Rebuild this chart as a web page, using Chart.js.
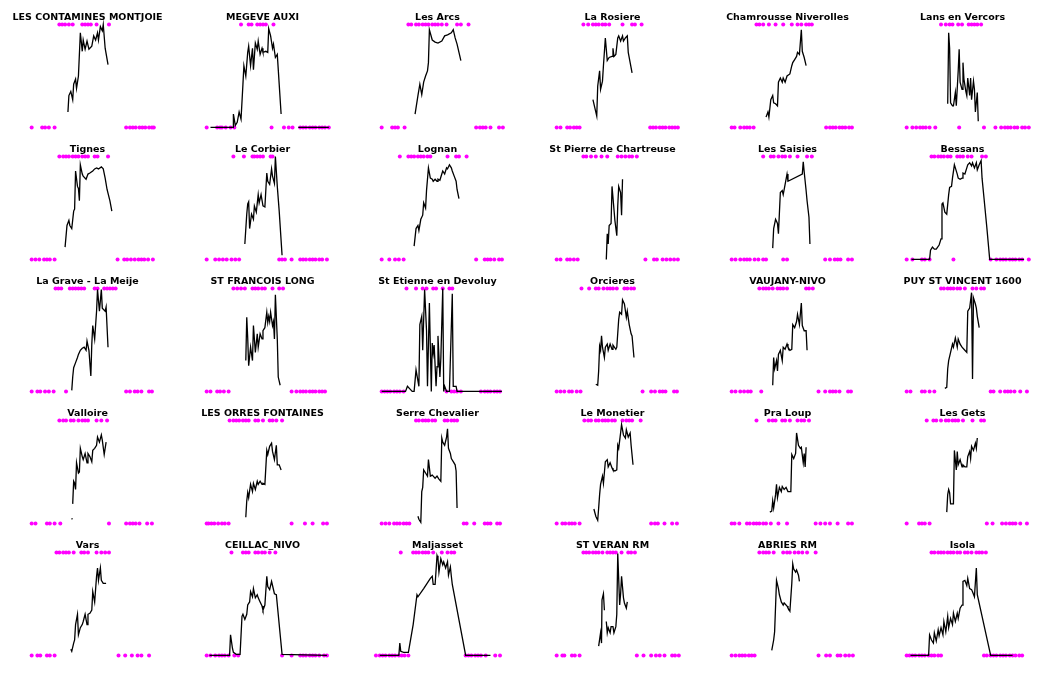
<!DOCTYPE html>
<html>
<head>
<meta charset="utf-8">
<script src="https://cdn.jsdelivr.net/npm/chart.js@4.4.1/dist/chart.umd.min.js"></script>
<style>
html, body { margin: 0; padding: 0; background: #fff; overflow: hidden; width: 1048px; height: 674px; }
#grid { position: relative; width: 1048px; height: 674px; }
#grid canvas { position: absolute; }
</style>
</head>
<body>
<div id="grid"></div>
<script>
// station names, one panel each (6 per row)
var stations = [
    'LES CONTAMINES MONTJOIE', 'MEGEVE AUXI', 'Les Arcs', 'La Rosiere', 'Chamrousse Niverolles', 'Lans en Vercors',
    'Tignes', 'Le Corbier', 'Lognan', 'St Pierre de Chartreuse', 'Les Saisies', 'Bessans',
    'La Grave - La Meije', 'ST FRANCOIS LONG', 'St Etienne en Devoluy', 'Orcieres', 'VAUJANY-NIVO', 'PUY ST VINCENT 1600',
    'Valloire', 'LES ORRES FONTAINES', 'Serre Chevalier', 'Le Monetier', 'Pra Loup', 'Les Gets',
    'Vars', 'CEILLAC_NIVO', 'Maljasset', 'ST VERAN RM', 'ABRIES RM', 'Isola'
];

// snow depth (day, % of max), null = no data
var snowDepth = [
    [[38,15],[39,31],[41,35],[43,27],[44,42],[46,47],[47,38],[49,50],[51,92],[53,74],[54,85],[56,76],[58,84],[60,76],[63,79],[65,89],[67,85],[69,92],[70,85],[72,98],[74,94],[75,100],[77,77],[80,61]],
    [[4,0],[28,0],[28,13],[30,2],[32,5],[34,15],[36,8],[38,42],[39,60],[41,50],[43,73],[44,79],[46,60],[48,77],[49,56],[51,82],[53,76],[54,84],[56,71],[58,77],[59,73],[62,74],[64,73],[65,96],[67,89],[69,77],[70,81],[72,68],[74,71],[78,13],[80,null],[96,0],[128,0]],
    [[35,13],[38,31],[40,42],[42,32],[44,44],[46,50],[48,55],[49,63],[50,95],[53,85],[56,83],[59,82],[63,84],[66,89],[69,90],[73,92],[75,95],[77,87],[79,81],[83,65]],
    [[38,27],[40,19],[42,11],[43,40],[45,55],[46,37],[48,45],[49,60],[51,87],[53,65],[55,68],[58,69],[59,77],[60,69],[62,71],[64,87],[65,89],[67,84],[69,89],[70,84],[72,87],[74,89],[75,73],[77,63],[79,53]],
    [[36,10],[38,15],[39,10],[41,27],[43,31],[44,24],[46,23],[48,21],[49,44],[51,48],[53,44],[54,48],[56,44],[58,50],[59,50],[61,52],[63,60],[64,63],[66,66],[68,69],[69,73],[71,71],[73,95],[74,74],[76,68],[78,60]],
    [[43,23],[44,92],[45,77],[46,24],[48,21],[49,21],[51,34],[52,21],[54,55],[55,76],[56,44],[58,37],[59,63],[60,47],[62,35],[63,31],[64,48],[66,31],[67,48],[68,27],[70,45],[71,37],[72,15],[74,34],[75,6]],
    [[35,12],[37,33],[39,38],[40,33],[42,30],[44,47],[45,49],[46,86],[48,71],[49,69],[50,57],[51,92],[53,83],[54,81],[57,78],[59,83],[61,84],[64,86],[66,88],[68,89],[70,88],[73,90],[75,88],[77,79],[79,68],[82,57],[84,47]],
    [[40,15],[42,44],[43,54],[44,56],[45,30],[47,44],[49,39],[50,52],[52,46],[54,63],[55,55],[57,63],[59,52],[61,51],[63,84],[64,76],[66,73],[68,88],[69,81],[71,74],[72,100],[74,71],[76,47],[79,4]],
    [[34,13],[36,30],[38,33],[39,28],[41,39],[43,43],[44,55],[46,50],[47,67],[49,89],[51,79],[53,78],[54,76],[56,78],[58,76],[59,78],[61,77],[63,83],[64,86],[66,83],[68,89],[69,88],[71,92],[73,89],[74,86],[76,81],[78,76],[79,68],[81,59]],
    [[52,0],[53,25],[54,15],[55,33],[57,35],[58,71],[60,49],[61,38],[63,23],[64,52],[65,71],[67,65],[68,43],[69,78]],
    [[43,11],[44,30],[46,39],[48,35],[49,25],[51,65],[53,67],[54,63],[56,73],[58,83],[59,76],[74,83],[75,95],[76,85],[78,67],[79,57],[81,41],[82,15]],
    [[5,0],[24,0],[25,9],[27,12],[29,10],[31,10],[34,14],[36,20],[37,54],[38,55],[40,46],[42,44],[44,63],[45,70],[47,71],[48,79],[50,92],[51,89],[53,83],[54,79],[56,78],[58,79],[59,84],[61,83],[63,89],[64,92],[66,94],[68,91],[69,94],[71,89],[73,94],[74,87],[76,92],[78,96],[79,79],[81,60],[84,31],[87,0],[123,0]],
    [[42,1],[43,14],[44,23],[46,28],[48,33],[49,36],[51,40],[53,42],[55,43],[57,40],[58,49],[60,40],[62,15],[63,46],[64,64],[66,51],[68,78],[69,99],[71,78],[73,99],[74,81],[77,78],[78,82],[80,43]],
    [[41,30],[42,72],[43,52],[44,25],[46,43],[48,30],[49,64],[51,38],[53,56],[54,43],[56,56],[58,51],[59,59],[61,62],[63,77],[64,67],[65,73],[66,68],[67,77],[69,64],[70,68],[71,51],[72,94],[74,51],[75,14],[77,6]],
    [[0,0],[25,0],[27,5],[30,2],[32,0],[34,0],[36,21],[39,5],[40,65],[42,73],[43,40],[45,99],[47,59],[48,5],[50,86],[52,0],[53,47],[54,37],[55,45],[57,5],[58,24],[59,54],[61,14],[62,32],[64,100],[65,0],[66,5],[68,0],[71,0],[74,95],[75,5],[78,5],[79,0],[126,0]],
    [[41,7],[43,6],[44,20],[45,44],[46,40],[47,54],[48,43],[50,33],[51,43],[53,46],[54,40],[56,46],[58,41],[59,45],[62,41],[63,43],[65,70],[66,77],[68,75],[69,89],[71,85],[73,72],[74,78],[76,65],[78,56],[79,54],[81,33]],
    [[43,6],[44,33],[45,22],[47,30],[48,20],[49,36],[51,40],[53,30],[54,43],[56,41],[58,46],[59,43],[61,40],[63,41],[64,65],[66,62],[68,68],[69,75],[71,65],[73,86],[74,64],[76,59],[78,59],[79,40]],
    [[40,3],[42,4],[43,22],[44,30],[46,38],[48,46],[49,43],[51,52],[53,43],[54,51],[56,46],[58,43],[60,41],[63,38],[64,78],[66,81],[68,96],[69,12],[70,91],[72,85],[73,81],[74,73],[76,62]],
    [[42,5],[42.6,4],[43,null],[43,19],[44,41],[45,39],[46,33],[47,59],[49,49],[50,50],[51,73],[53,65],[54,62],[56,68],[58,59],[59,68],[61,65],[63,60],[64,71],[66,73],[68,76],[69,84],[71,79],[73,86],[74,81],[76,67],[78,79]],
    [[41,6],[42,22],[43,30],[44,25],[46,38],[48,31],[49,39],[51,33],[53,41],[54,38],[56,41],[58,38],[59,39],[61,38],[63,71],[64,67],[66,75],[68,78],[69,70],[71,62],[73,76],[74,57],[76,57],[78,52]],
    [[38,7],[39,4],[41,1],[42,31],[43,35],[44,52],[46,49],[48,46],[49,62],[51,46],[53,47],[54,46],[56,44],[58,46],[60,43],[62,41],[63,83],[64,79],[66,76],[68,84],[69,92],[70,73],[72,68],[73,63],[75,60],[77,57],[78,51],[79,15]],
    [[39,14],[41,7],[43,3],[44,15],[45,28],[46,38],[48,46],[49,39],[51,60],[53,62],[54,55],[56,59],[58,54],[59,52],[61,51],[63,52],[64,76],[65,73],[67,88],[68,96],[70,86],[72,83],[73,91],[75,84],[77,88],[78,76],[80,57]],
    [[40,11],[42,12],[43,22],[44,15],[46,28],[47,38],[48,25],[50,35],[52,31],[53,36],[55,33],[57,35],[59,31],[62,31],[63,67],[65,63],[67,68],[68,88],[70,76],[72,73],[73,74],[75,59],[76,68],[77,55],[78,74]],
    [[42,11],[43,28],[44,33],[45,30],[46,19],[49,19],[50,71],[52,52],[53,70],[54,57],[56,62],[58,55],[59,57],[61,55],[63,55],[64,65],[66,70],[67,63],[68,75],[70,71],[72,78],[73,73],[74,83]],
    [[41,6],[42,4],[44,12],[45,15],[46,30],[48,40],[49,20],[51,27],[53,30],[54,33],[56,40],[58,30],[59,40],[61,41],[63,44],[64,62],[66,52],[68,77],[69,85],[70,73],[72,85],[73,73],[75,70],[78,70]],
    [[3,0],[24,0],[25,20],[27,7],[28,3],[31,1],[35,1],[37,38],[38,40],[40,35],[42,40],[43,49],[45,52],[46,62],[48,57],[49,65],[51,56],[53,59],[54,56],[56,52],[58,48],[59,44],[61,49],[63,77],[64,67],[66,64],[68,72],[69,68],[71,60],[73,59],[79,1],[126,0]],
    [[-2,0],[18,0],[19,12],[20,4],[23,3],[26,3],[28,3],[33,30],[37,59],[38,57],[44,65],[51,75],[53,77],[54,69],[56,69],[58,97],[59,94],[60,81],[62,94],[64,88],[65,91],[67,85],[69,91],[70,78],[72,86],[73,77],[74,69],[88,0],[114,0]],
    [[44,9],[46,22],[47,12],[47.5,54],[49,60],[50,44],[51,null],[52,33],[53,22],[54,27],[56,22],[57,28],[59,28],[60,22],[62,28],[63,40],[64,99],[66,49],[67,60],[68,77],[70,56],[71,51],[73,46],[74,52]],
    [[42,5],[44,15],[45,23],[47,73],[49,65],[50,59],[52,52],[54,49],[55,51],[58,48],[59,46],[61,43],[63,70],[64,89],[65,84],[67,81],[68,83],[70,78],[71,72]],
    [[4,0],[23,0],[24,20],[26,15],[28,12],[29,22],[31,14],[33,25],[34,19],[36,27],[38,20],[39,33],[41,23],[43,38],[44,27],[46,36],[48,30],[49,41],[51,33],[53,41],[54,36],[56,46],[58,49],[59,72],[61,73],[63,68],[64,75],[66,65],[68,64],[69,62],[71,57],[73,85],[74,59],[88,0],[111,0]]
];

// days flagged as snow (top row of dots)
var snowDays = [
    [29,32,35,39,43,53,56,59,62,68,81],
    [36,44,47,53,56,59,62,70],
    [28,31,36,39,43,46,49,53,56,59,63,68,79,83,91],
    [28,33,38,41,44,48,51,55,69,79,82,89],
    [26,29,33,39,46,54,63,69,73,78,81,84],
    [36,41,45,48,54,58,65,68,71,74,78],
    [29,33,36,39,43,46,49,53,56,59,66,69,80],
    [28,39,48,50,53,56,59,67,69],
    [19,28,31,34,38,41,44,48,51,69,78,81,89],
    [28,31,36,41,47,53,64,68,72,76,79,84],
    [33,41,44,49,53,56,61,69,79,84],
    [26,29,33,36,39,43,46,53,56,59,64,68,79,83],
    [25,28,31,40,43,46,49,52,55,66,69,76,79,82,85,88],
    [28,32,36,40,48,51,54,58,61,69,76,80],
    [26,36,43,47,54,57,64,71,74],
    [26,34,41,44,49,53,56,59,63,71,74,78,81],
    [29,33,36,39,43,48,51,54,58,78,81,85],
    [36,39,43,46,49,53,56,61,69,73,78,81],
    [29,33,36,41,44,49,53,56,59,68,73,79],
    [24,28,31,34,38,41,44,51,54,59,66,69,73,79],
    [36,39,43,46,49,53,56,66,69,73,76,79],
    [29,33,36,41,44,48,51,54,58,61,69,73,76,79,88],
    [26,39,43,46,53,56,61,69,73,76,81],
    [21,28,31,36,41,44,48,51,54,59,69,78,81],
    [26,29,33,36,39,44,52,55,59,68,73,77,81],
    [26,38,41,44,51,54,58,61,66,72],
    [20,33,36,39,43,46,49,54,63,69,73,76],
    [28,31,34,38,41,44,48,53,56,59,62,68,75,78,82],
    [29,33,36,39,44,54,58,61,66,70,74,79,88],
    [26,29,33,36,39,43,46,49,53,56,61,64,68,73,76,79,83]
];

// days flagged as bare ground (bottom row of dots)
var bareDays = [
    [0,11,14,18,24,99,103,106,109,113,116,119,123,126,128],
    [0,11,14,16,20,25,29,68,81,86,90,98,101,104,108,111,114,118,121,124,128],
    [0,11,14,17,24,99,103,106,109,114,123,127],
    [0,4,11,14,18,21,24,98,101,104,108,111,114,118,121,124,127],
    [0,3,9,13,16,19,23,99,103,106,109,113,116,119,123,126],
    [0,6,10,14,17,20,24,30,55,81,93,99,103,106,109,113,116,121,124,128],
    [0,4,8,13,16,19,24,90,97,100,104,108,112,115,118,122,127],
    [0,9,13,17,21,26,30,34,76,79,82,89,98,101,104,108,111,114,118,121,126],
    [0,8,14,18,23,99,108,111,114,118,123,126],
    [0,4,11,14,18,22,93,102,105,111,115,119,123,127],
    [0,4,9,13,16,19,24,28,33,36,54,58,98,103,108,111,114,122,126],
    [0,6,16,19,24,49,88,94,98,101,104,108,111,114,118,121,128],
    [0,6,9,14,18,23,36,99,103,108,111,115,123,126],
    [0,4,11,14,18,23,89,94,98,101,104,108,111,114,118,121,124],
    [0,3,6,9,13,16,19,23,68,73,76,79,83,104,108,111,114,118,121,124],
    [0,4,8,13,16,21,25,90,99,103,108,111,114,123,126],
    [0,4,9,13,17,20,31,91,98,103,106,109,113,122,125],
    [0,4,16,19,24,29,88,91,98,103,106,109,113,119,126],
    [0,4,16,19,24,30,81,99,103,106,109,113,121,126],
    [0,2,5,8,12,16,19,23,89,103,111,122,126],
    [0,4,8,13,16,19,23,26,29,86,89,97,108,111,114,121,124],
    [0,6,9,13,16,19,24,99,103,106,113,121,126],
    [0,3,8,16,19,23,26,29,33,36,41,49,58,88,93,98,103,111,122,126],
    [0,13,16,19,24,84,90,100,104,108,111,114,119,126],
    [0,6,9,16,19,24,91,98,105,111,115,123],
    [0,4,9,13,16,19,23,29,33,79,89,98,101,104,108,111,114,118,123,126],
    [-6,-2,1,4,8,11,14,18,21,24,28,88,91,94,98,101,104,109,119,124],
    [0,6,8,16,19,24,84,91,99,104,108,113,121,124,128],
    [0,4,8,11,14,18,21,24,91,99,103,111,114,119,123,127],
    [0,3,6,9,13,16,19,23,26,29,33,36,81,84,88,91,94,98,101,104,108,111,114,118,121]
];

var grid = document.getElementById('grid');

stations.forEach(function (name, i) {
    var cv = document.createElement('canvas');
    cv.width = 175;
    cv.height = 134;
    cv.style.left = (175 * (i % 6)) + 'px';
    cv.style.top = (132 * Math.floor(i / 6)) + 'px';
    grid.appendChild(cv);

    var depth = snowDepth[i].map(function (p) { return { x: p[0], y: p[1] }; });
    var snow = snowDays[i].map(function (d) { return { x: d, y: 100 }; });
    var bare = bareDays[i].map(function (d) { return { x: d, y: 0 }; });

    var dots = {
        showLine: false,
        pointRadius: 2,
        pointBackgroundColor: '#ff00ff',
        pointBorderColor: '#ff00ff',
        pointBorderWidth: 0,
        clip: false
    };

    new Chart(cv.getContext('2d'), {
        type: 'line',
        data: {
            datasets: [
                { data: depth, borderColor: '#000', borderWidth: 1.3, pointRadius: 0, tension: 0, spanGaps: false, clip: false },
                Object.assign({ data: snow }, dots),
                Object.assign({ data: bare }, dots)
            ]
        },
        options: {
            responsive: false,
            animation: false,
            events: [],
            // full width so long titles are not squeezed
            layout: { padding: { left: 0, right: 0, top: 0, bottom: 2 } },
            scales: {
                x: { type: 'linear', display: false, min: -29, max: 146 },
                y: { type: 'linear', display: false, min: -2.5, max: 102.5 }
            },
            plugins: {
                legend: { display: false },
                tooltip: { enabled: false },
                title: {
                    display: true,
                    text: name,
                    color: '#000',
                    font: { family: 'DejaVu Sans', size: 9.5, weight: 'bold', lineHeight: 1 },
                    padding: { top: 12.5, bottom: 0 }
                }
            }
        }
    });
});
</script>
</body>
</html>
